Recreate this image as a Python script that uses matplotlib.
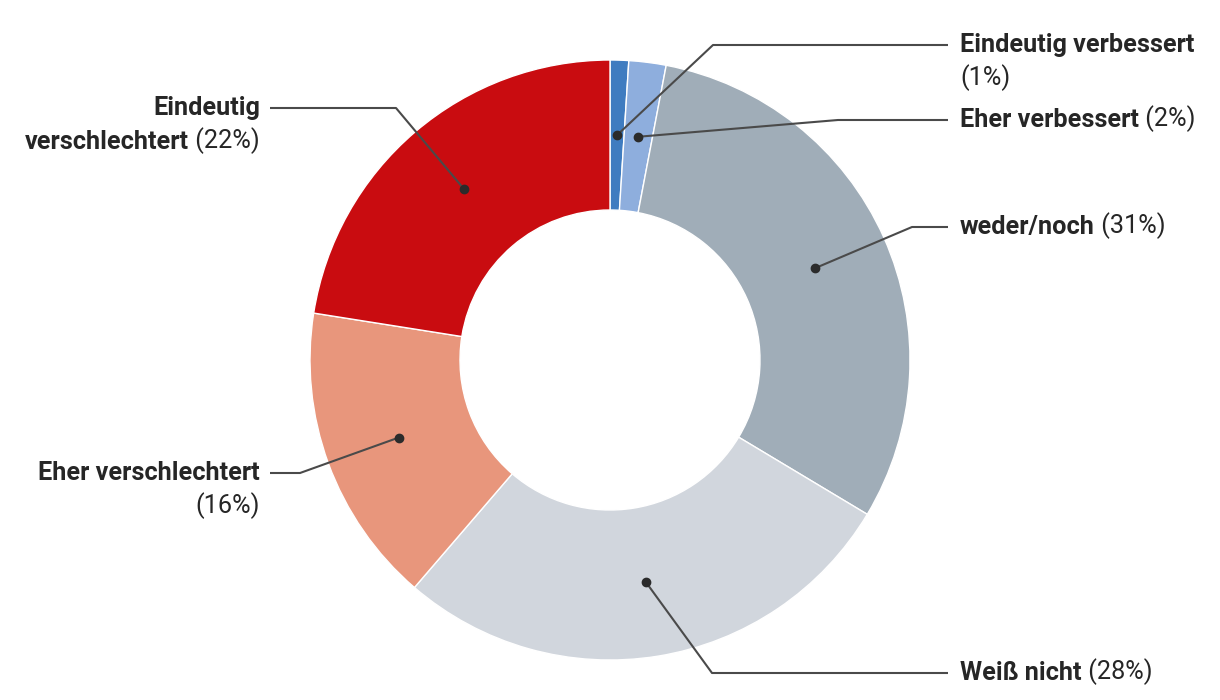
import numpy as np
import matplotlib
matplotlib.use("Agg")
import matplotlib.pyplot as plt
from matplotlib.patches import Wedge

kategorien = ["Eindeutig verbessert", "Eher verbessert", "weder/noch",
              "Weiß nicht", "Eher verschlechtert", "Eindeutig verschlechtert"]
anteile = [1.0, 2.0, 30.6, 27.7, 16.2, 22.5]
farben = ["#3f7cc0", "#8eaedd", "#a0adb8", "#d1d6dd", "#e8967c", "#c90c10"]

# Beschriftungen: (fett, normal, zweite Zeile fett, zweite Zeile normal)
texte = [
    ("Eindeutig verbessert", "", "", "(1%)"),
    ("Eher verbessert", " (2%)", "", ""),
    ("weder/noch", " (31%)", "", ""),
    ("Weiß nicht", " (28%)", "", ""),
    ("Eher verschlechtert", "", "", "(16%)"),
    ("Eindeutig", "", "verschlechtert", " (22%)"),
]

plt.rcParams['font.family'] = ['Roboto', 'DejaVu Sans']
textfarbe = "#262626"
fs = 18.2

fig = plt.figure(figsize=(12.2, 7), dpi=100)
ax = fig.add_axes([0, 0, 1, 1])
ax.set_xlim(0, 1220)
ax.set_ylim(700, 0)
ax.axis("off")

cx, cy, r_aussen, r_innen = 610, 360, 300, 150
r_punkt = 225

# Ring, im Uhrzeigersinn ab 12 Uhr
start = 90.0
mitten = []
for wert, farbe in zip(anteile, farben):
    winkel = wert / sum(anteile) * 360
    ende = start - winkel
    # y-Achse ist umgekehrt, daher Winkel spiegeln
    w = Wedge((cx, cy), r_aussen, -start, -ende, width=r_aussen - r_innen,
              facecolor=farbe, edgecolor="white", linewidth=1)
    ax.add_patch(w)
    mitten.append(np.deg2rad((start + ende) / 2))
    start = ende

# Knickpunkte und Textpositionen der Führungslinien
knick = [(713, 45), (838, 120), (912, 227), (712, 673), (300, 473), (396, 108)]
linie_ende = [948, 948, 948, 948, 270, 270]
rechts = [True, True, True, True, False, False]

for i, m in enumerate(mitten):
    px = cx + r_punkt * np.cos(m)
    py = cy - r_punkt * np.sin(m)
    kx, ky = knick[i]
    ax.plot([px, kx, linie_ende[i]], [py, ky, ky], color="#4a4a4a", lw=1.5,
            solid_capstyle="butt", zorder=3)
    ax.plot(px, py, "o", color="#2b2b2b", ms=6, zorder=4)

    fett, normal, fett2, normal2 = texte[i]
    zeilen = [(fett, normal, ky), (fett2, normal2, ky + 33)]
    for f, n, y in zeilen:
        if not f and not n:
            continue
        if rechts[i]:
            x0 = 960
            if f:
                t = ax.text(x0, y, f, fontsize=fs, fontweight="bold", color=textfarbe,
                            ha="left", va="center")
                if n:
                    ax.annotate(n, xy=(1, 0), xycoords=t, fontsize=fs, color=textfarbe,
                                ha="left", va="bottom")
            else:
                ax.text(x0, y, n, fontsize=fs, color=textfarbe, ha="left", va="center")
        else:
            x0 = 260
            if n:
                t = ax.text(x0, y, n, fontsize=fs, color=textfarbe, ha="right", va="center")
                if f:
                    ax.annotate(f, xy=(0, 0), xycoords=t, fontsize=fs, fontweight="bold",
                                color=textfarbe, ha="right", va="bottom")
            else:
                ax.text(x0, y, f, fontsize=fs, fontweight="bold", color=textfarbe,
                        ha="right", va="center")

fig.savefig("out.png", dpi=100)
